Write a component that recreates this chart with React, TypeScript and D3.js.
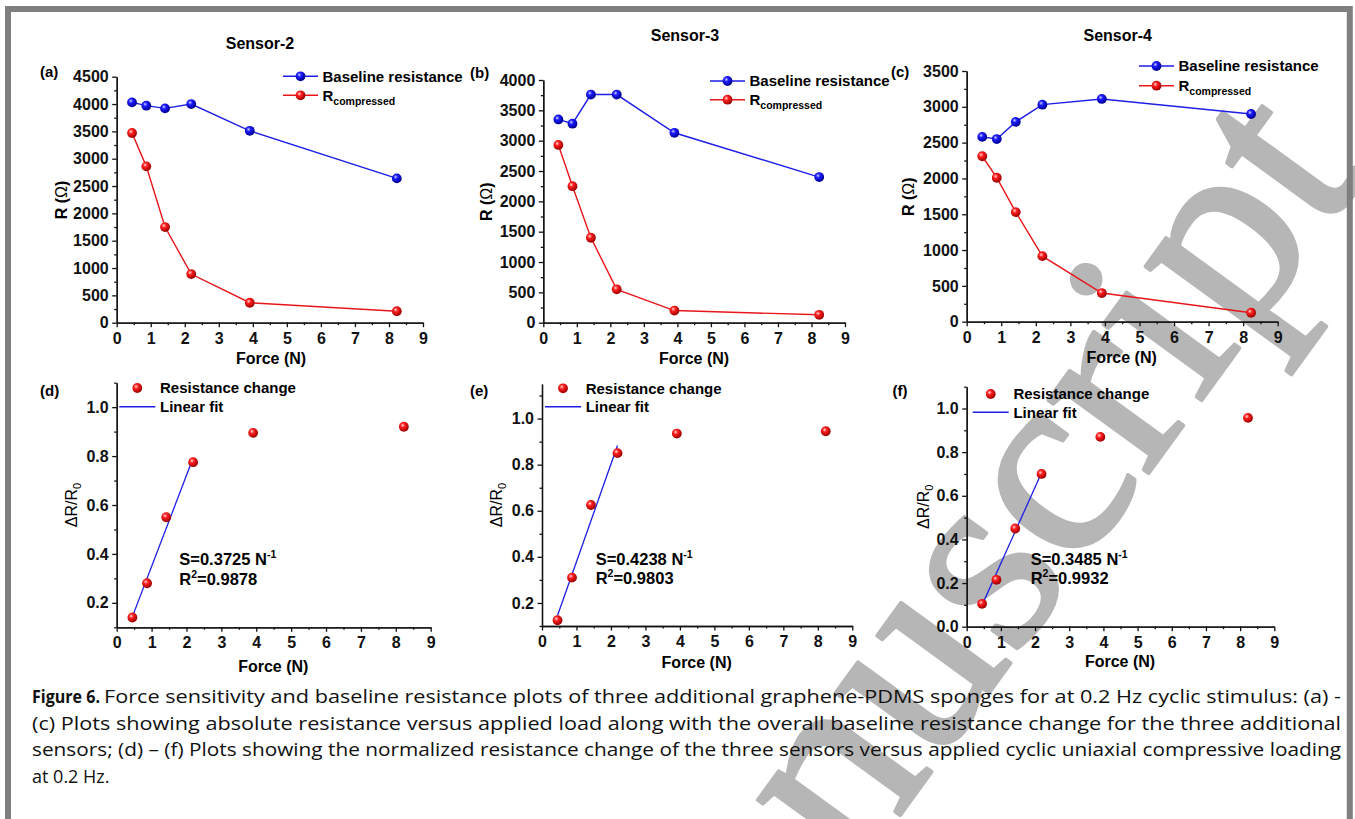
import { useEffect, useRef } from "react";
import * as d3 from "d3";

// applied force (N), shared by all three sensors
const FORCE = [0.45, 0.87, 1.42, 2.19, 3.91, 8.23];
const X_TICKS = [0, 1, 2, 3, 4, 5, 6, 7, 8, 9];
const X_MINOR = [0.5, 1.5, 2.5, 3.5, 4.5, 5.5, 6.5, 7.5, 8.5];

const SENSORS = ["Sensor-2", "Sensor-3", "Sensor-4"];
const BASELINE_2 = [4030, 3970, 3920, 4000, 3510, 2640];
const COMPRESSED_2 = [3470, 2860, 1750, 890, 365, 210];
const BASELINE_3 = [3350, 3280, 3760, 3760, 3130, 2400];
const COMPRESSED_3 = [2930, 2250, 1400, 550, 200, 130];
const BASELINE_4 = [2580, 2550, 2790, 3030, 3110, 2900];
const COMPRESSED_4 = [2310, 2010, 1530, 915, 400, 125];
const R_MAX = [4500, 4000, 3500];

const CHANGE_2 = [0.14, 0.28, 0.55, 0.775, 0.895, 0.92];
const CHANGE_3 = [0.125, 0.31, 0.625, 0.85, 0.935, 0.945];
const CHANGE_4 = [0.105, 0.215, 0.45, 0.7, 0.87, 0.957];
const FIT_SLOPE = [0.3725, 0.4238, 0.3485];
const FIT_INTERCEPT = [-0.024, -0.045, -0.058];
const FIT_R2 = ["0.9878", "0.9803", "0.9932"];
const CHANGE_DOMAIN = [[0.1, 1.1], [0.1, 1.15], [0, 1.1]];
const CHANGE_TICKS = [
  [0.2, 0.4, 0.6, 0.8, 1.0],
  [0.2, 0.4, 0.6, 0.8, 1.0],
  [0, 0.2, 0.4, 0.6, 0.8, 1.0],
];
const CHANGE_MINOR = [
  [0.1, 0.3, 0.5, 0.7, 0.9, 1.1],
  [0.1, 0.3, 0.5, 0.7, 0.9, 1.1],
  [0.1, 0.3, 0.5, 0.7, 0.9, 1.1],
];

const CAPTION = [
  "Force sensitivity and baseline resistance plots of three additional graphene-PDMS sponges for at 0.2 Hz cyclic stimulus: (a) -",
  "(c) Plots showing absolute resistance versus applied  load along with the overall baseline resistance change for the three additional",
  "sensors; (d) \u2013 (f) Plots showing the normalized resistance change of the three sensors versus applied cyclic uniaxial compressive loading",
  "at 0.2 Hz.",
];

const FONT = "'Liberation Sans', Arial, sans-serif";
const CAPTION_FONT = "'Liberation Sans Narrow', 'Open Sans', sans-serif";
const RED = "#e8161a";
const BLUE = "#1e1ee6";

// panel geometry (pixels)
const TOP = [
  { x0: 116.7, x1: 423, yTop: 76.7, yBot: 322.7, title: [260, 48.5], tag: [40, 77], yLab: [67.4, 200], xLab: [271, 364], leg: [283, 76.3], legGap: 19 },
  { x0: 543.3, x1: 845, yTop: 80, yBot: 322.7, title: [685, 40.5], tag: [470, 78], yLab: [492.4, 201.7], xLab: [694, 364], leg: [710, 81], legGap: 18.7 },
  { x0: 966.7, x1: 1277.7, yTop: 71, yBot: 321.7, title: [1117.7, 40.5], tag: [891, 77], yLab: [914, 196.7], xLab: [1121.7, 363], leg: [1139, 66], legGap: 19.7 },
];
const BOTTOM = [
  { x0: 116.7, x1: 430.7, yTop: 382.7, yBot: 627.3, tag: [40, 395.5], yLab: [76.7, 505], xLab: [273.3, 672], leg: [119.3, 388, 406.7], ann: [179.3, 565] },
  { x0: 542, x1: 852.3, yTop: 384, yBot: 626, tag: [470, 395.5], yLab: [502.3, 505], xLab: [696.7, 667.5], leg: [545, 388.3, 406.7], ann: [595.7, 564.5] },
  { x0: 966.7, x1: 1274.3, yTop: 386.7, yBot: 626.7, tag: [892.5, 396], yLab: [929, 506.7], xLab: [1120, 667], leg: [972.7, 394, 412.3], ann: [1030.7, 564.5] },
];

const Axis = ({ scale, orient, ticks, minor, format, transform }) => {
  const ref = useRef(null);
  useEffect(() => {
    const g = d3.select(ref.current);
    g.selectAll("*").remove();
    const make = orient === "left" ? d3.axisLeft : d3.axisBottom;
    g.append("g").call(make(scale).tickValues(minor).tickSize(2.5).tickSizeOuter(0).tickFormat(() => ""));
    g.append("g").call(
      make(scale)
        .tickValues(ticks)
        .tickSize(4.5)
        .tickSizeOuter(0)
        .tickPadding(orient === "left" ? 3.5 : 5)
        .tickFormat(format)
    );
    g.selectAll("path, line").attr("stroke", "#111").attr("stroke-width", 1.3);
    g.selectAll("text")
      .attr("font-family", FONT)
      .attr("font-weight", "bold")
      .attr("font-size", 16)
      .attr("fill", "#111");
  }, [scale, orient, ticks, minor, format]);
  return <g ref={ref} transform={transform} />;
};

const Ball = ({ x, y, color }) => (
  <circle cx={x} cy={y} r={4.9} fill={`url(#ball-${color})`} />
);

const TopPanel = ({ i, baseline, compressed }) => {
  const L = TOP[i];
  const x = d3.scaleLinear().domain([0, 9]).range([L.x0, L.x1]);
  const y = d3.scaleLinear().domain([0, R_MAX[i]]).range([L.yBot, L.yTop]);
  const yTicks = d3.range(0, R_MAX[i] + 1, 500);
  const yMinor = d3.range(250, R_MAX[i], 500);
  const line = d3.line().x((d) => x(d[0])).y((d) => y(d[1]));
  const blue = FORCE.map((f, k) => [f, baseline[k]]);
  const red = FORCE.map((f, k) => [f, compressed[k]]);
  const [lx, ly] = L.leg;
  return (
    <g>
      <text x={L.title[0]} y={L.title[1]} textAnchor="middle" fontFamily={FONT} fontWeight="bold" fontSize={16}>
        {SENSORS[i]}
      </text>
      <text x={L.tag[0]} y={L.tag[1]} fontFamily={FONT} fontWeight="bold" fontSize={15}>
        {"(" + "abc"[i] + ")"}
      </text>
      <Axis scale={y} orient="left" ticks={yTicks} minor={yMinor} format={d3.format("d")} transform={`translate(${L.x0},0)`} />
      <Axis scale={x} orient="bottom" ticks={X_TICKS} minor={X_MINOR} format={d3.format("d")} transform={`translate(0,${L.yBot})`} />
      <text transform={`translate(${L.yLab[0]},${L.yLab[1]}) rotate(-90)`} textAnchor="middle" fontFamily={FONT} fontWeight="bold" fontSize={16}>
        R (<tspan fontWeight="normal">{"\u03A9"}</tspan>)
      </text>
      <text x={L.xLab[0]} y={L.xLab[1]} textAnchor="middle" fontFamily={FONT} fontWeight="bold" fontSize={16}>
        Force (N)
      </text>
      <path d={line(blue)} fill="none" stroke={BLUE} strokeWidth={1.4} />
      <path d={line(red)} fill="none" stroke={RED} strokeWidth={1.4} />
      {blue.map((d, k) => <Ball key={"b" + k} x={x(d[0])} y={y(d[1])} color="blue" />)}
      {red.map((d, k) => <Ball key={"r" + k} x={x(d[0])} y={y(d[1])} color="red" />)}
      <line x1={lx} x2={lx + 35} y1={ly} y2={ly} stroke={BLUE} strokeWidth={1.4} />
      <Ball x={lx + 17.5} y={ly} color="blue" />
      <text x={lx + 39.5} y={ly + 5.4} fontFamily={FONT} fontWeight="bold" fontSize={15}>
        Baseline resistance
      </text>
      <line x1={lx} x2={lx + 35} y1={ly + L.legGap} y2={ly + L.legGap} stroke={RED} strokeWidth={1.4} />
      <Ball x={lx + 17.5} y={ly + L.legGap} color="red" />
      <text x={lx + 39.5} y={ly + L.legGap + 5.4} fontFamily={FONT} fontWeight="bold" fontSize={15}>
        R<tspan fontSize={10.5} dy={4}>compressed</tspan>
      </text>
    </g>
  );
};

const BottomPanel = ({ i, change }) => {
  const L = BOTTOM[i];
  const x = d3.scaleLinear().domain([0, 9]).range([L.x0, L.x1]);
  const y = d3.scaleLinear().domain(CHANGE_DOMAIN[i]).range([L.yBot, L.yTop]);
  const fitX = [FORCE[0], FORCE[3]];
  const fit = fitX.map((f) => [f, FIT_SLOPE[i] * f + FIT_INTERCEPT[i]]);
  const line = d3.line().x((d) => x(d[0])).y((d) => y(d[1]));
  const [lx, my, ly] = L.leg;
  return (
    <g>
      <text x={L.tag[0]} y={L.tag[1]} fontFamily={FONT} fontWeight="bold" fontSize={15}>
        {"(" + "def"[i] + ")"}
      </text>
      <Axis scale={y} orient="left" ticks={CHANGE_TICKS[i]} minor={CHANGE_MINOR[i]} format={d3.format(".1f")} transform={`translate(${L.x0},0)`} />
      <Axis scale={x} orient="bottom" ticks={X_TICKS} minor={X_MINOR} format={d3.format("d")} transform={`translate(0,${L.yBot})`} />
      <text transform={`translate(${L.yLab[0]},${L.yLab[1]}) rotate(-90)`} textAnchor="middle" fontFamily={FONT} fontSize={16}>
        {"\u0394R/R"}<tspan fontSize={11} dy={4}>0</tspan>
      </text>
      <text x={L.xLab[0]} y={L.xLab[1]} textAnchor="middle" fontFamily={FONT} fontWeight="bold" fontSize={16}>
        Force (N)
      </text>
      <path d={line(fit)} fill="none" stroke={BLUE} strokeWidth={1.3} />
      {change.map((c, k) => <Ball key={k} x={x(FORCE[k])} y={y(c)} color="red" />)}
      <Ball x={lx + 18} y={my} color="red" />
      <text x={lx + 40.7} y={my + 5.4} fontFamily={FONT} fontWeight="bold" fontSize={15}>
        Resistance change
      </text>
      <line x1={lx} x2={lx + 36} y1={ly} y2={ly} stroke={BLUE} strokeWidth={1.4} />
      <text x={lx + 40.7} y={ly + 5.4} fontFamily={FONT} fontWeight="bold" fontSize={15}>
        Linear fit
      </text>
      <text x={L.ann[0]} y={L.ann[1]} fontFamily={FONT} fontWeight="bold" fontSize={16.5}>
        {"S=" + FIT_SLOPE[i].toFixed(4) + " N"}<tspan fontSize={10.5} dy={-7}>-1</tspan>
      </text>
      <text x={L.ann[0]} y={L.ann[1] + 19.5} fontFamily={FONT} fontWeight="bold" fontSize={16.5}>
        R<tspan fontSize={10.5} dy={-7}>2</tspan><tspan dy={7}>{"=" + FIT_R2[i]}</tspan>
      </text>
    </g>
  );
};

export default function App() {
  return (
    <div style={{ position: "absolute", left: 0, top: 0 }}>
      <svg width={1355} height={819} style={{ display: "block", background: "#fff" }}>
        <defs>
          <radialGradient id="ball-red" cx="38%" cy="35%" r="65%">
            <stop offset="0%" stopColor="#ffd8d8" />
            <stop offset="35%" stopColor="#ff1e1e" />
            <stop offset="100%" stopColor="#9a0000" />
          </radialGradient>
          <radialGradient id="ball-blue" cx="38%" cy="35%" r="65%">
            <stop offset="0%" stopColor="#c8c8ff" />
            <stop offset="35%" stopColor="#1a1aff" />
            <stop offset="100%" stopColor="#00008c" />
          </radialGradient>
        </defs>
        <rect width={1355} height={819} fill="#fff" />
        {/* watermark, sits under the plots */}
        <text
          transform="translate(643,1169) rotate(-54)"
          fontFamily="'Liberation Serif', 'Times New Roman', serif"
          fontSize={270}
          fill="#b6b6b6"
          stroke="#b6b6b6"
          strokeWidth={4}
          strokeLinejoin="round"
        >
          Manuscript
        </text>
        <rect x={8} y={9} width={1341.8} height={900} fill="none" stroke="#7f7f7f" strokeWidth={6} />
        <TopPanel i={0} baseline={BASELINE_2} compressed={COMPRESSED_2} />
        <TopPanel i={1} baseline={BASELINE_3} compressed={COMPRESSED_3} />
        <TopPanel i={2} baseline={BASELINE_4} compressed={COMPRESSED_4} />
        <BottomPanel i={0} change={CHANGE_2} />
        <BottomPanel i={1} change={CHANGE_3} />
        <BottomPanel i={2} change={CHANGE_4} />
        {CAPTION.map((t, k) => (
          <text
            key={k}
            x={32}
            y={703 + k * 26.7}
            fontFamily={CAPTION_FONT}
            fontSize={18}
            fill="#111"
            textLength={k < 3 ? (k === 0 ? 1309 - 72 : 1309) : undefined}
            lengthAdjust="spacingAndGlyphs"
            dx={k === 0 ? 72 : 0}
          >
            {t}
          </text>
        ))}
        <text x={32} y={703} fontFamily={CAPTION_FONT} fontSize={18} fontWeight="bold" fill="#111" textLength={68} lengthAdjust="spacingAndGlyphs">
          Figure 6.
        </text>
      </svg>
    </div>
  );
}
